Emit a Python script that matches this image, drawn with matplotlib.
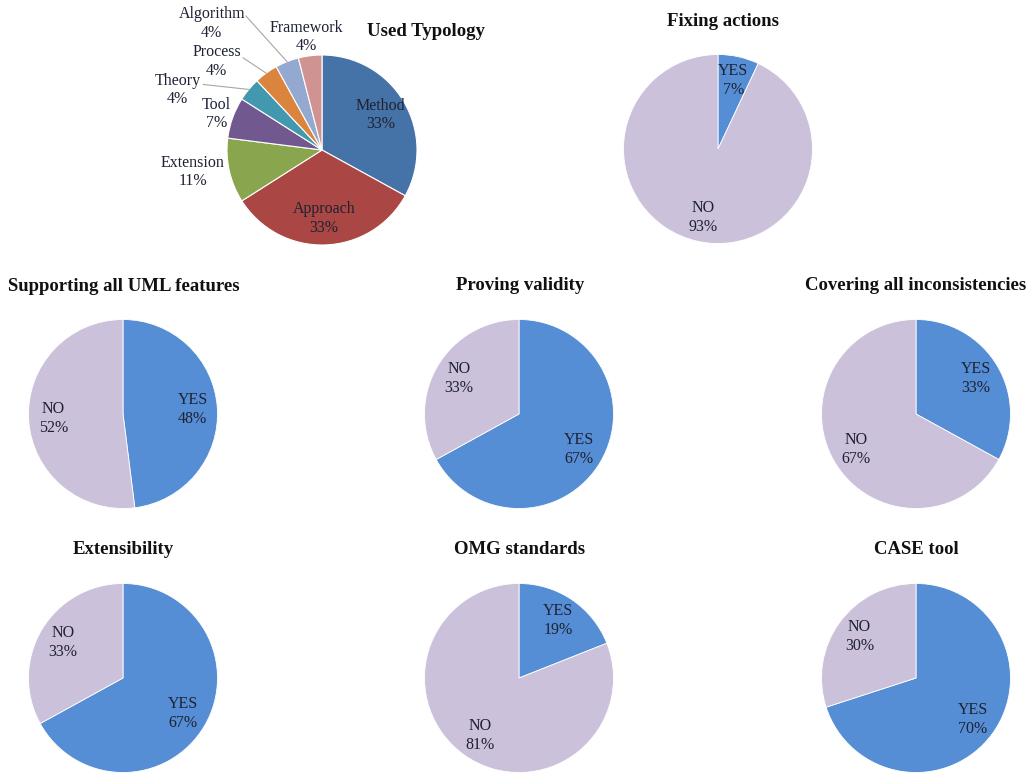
import numpy as np
import matplotlib.pyplot as plt

# ---- data ----
typology_labels = ['Method', 'Approach', 'Extension', 'Tool', 'Theory', 'Process', 'Algorithm', 'Framework']
typology_pct = [33, 33, 11, 7, 4, 4, 4, 4]
typology_colors = ['#4572a7', '#aa4643', '#89a54e', '#71588f', '#4198af', '#db843d', '#93a9cf', '#d19392']

chart_titles = ['Fixing actions', 'Supporting all UML features', 'Proving validity',
                'Covering all inconsistencies', 'Extensibility', 'OMG standards', 'CASE tool']
yes_pct = [7, 48, 67, 33, 67, 19, 70]
no_pct = [93, 52, 33, 67, 33, 81, 30]
answer_labels = ['YES', 'NO']
answer_colors = ['#558ed5', '#ccc1da']

W, H = 1033, 773
SERIF = ['Liberation Serif', 'DejaVu Serif']
TXT = '#1e2233'

fig = plt.figure(figsize=(W / 100, H / 100), dpi=100)


def pie_axes(cx, cy, r):
    ax = fig.add_axes([(cx - r) / W, 1 - (cy + r) / H, 2 * r / W, 2 * r / H])
    ax.axis('off')
    return ax


def fix_limits(ax):
    # pie() resets the limits, so set them afterwards
    ax.set_xlim(-1, 1)
    ax.set_ylim(-1, 1)
    ax.set_aspect('equal')


def title(x, y, s):
    fig.text(x / W, 1 - y / H, s, ha='center', va='center', fontsize=13.5,
             fontweight='bold', family=SERIF, color='#111111')


def mid_point(w, r):
    a = np.deg2rad((w.theta1 + w.theta2) / 2)
    return r * np.cos(a), r * np.sin(a)


# ---- Used Typology ----
ax = pie_axes(322, 150, 95)
wedges, _ = ax.pie(typology_pct, colors=typology_colors, startangle=90, counterclock=False,
                   radius=1, wedgeprops=dict(edgecolor='white', linewidth=0.8))
fix_limits(ax)
# label positions (pie units); None -> inside the slice
lab_pos = [None, None, (-1.36, -0.23), (-1.11, 0.38), (-1.52, 0.63), (-1.11, 0.93),
           (-1.16, 1.33), (-0.16, 1.19)]
leader_start = {4: (-1.25, 0.69), 5: (-0.83, 0.97), 6: (-0.80, 1.41)}
for i, w in enumerate(wedges):
    s = f'{typology_labels[i]}\n{typology_pct[i]}%'
    if lab_pos[i] is None:
        x, y = mid_point(w, 0.72)
    else:
        x, y = lab_pos[i]
    ax.text(x, y, s, ha='center', va='center', fontsize=11.5, family=SERIF,
            color=TXT, linespacing=1.2)
    if i in leader_start:
        ex, ey = mid_point(w, 1.0)
        sx, sy = leader_start[i]
        ax.plot([sx, ex], [sy, ey], color='#a6a6a6', lw=0.8, clip_on=False)
title(426, 32, 'Used Typology')

# ---- YES / NO pies ----
centers = [(718, 149), (123, 414), (519, 414), (916, 414), (123, 678), (519, 678), (916, 678)]
title_pos = [(723, 21), (124, 286), (520, 285), (916, 285), (123, 550), (520, 550), (916, 550)]
for k in range(len(chart_titles)):
    cx, cy = centers[k]
    ax = pie_axes(cx, cy, 94.5)
    vals = [yes_pct[k], no_pct[k]]
    wedges, _ = ax.pie(vals, colors=answer_colors, startangle=90, counterclock=False,
                       radius=1, wedgeprops=dict(edgecolor='white', linewidth=0.6))
    fix_limits(ax)
    for i, w in enumerate(wedges):
        x, y = mid_point(w, 0.74)
        ax.text(x, y, f'{answer_labels[i]}\n{vals[i]}%', ha='center', va='center',
                fontsize=11.5, family=SERIF, color=TXT, linespacing=1.25)
    title(title_pos[k][0], title_pos[k][1], chart_titles[k])

fig.savefig('out.png', dpi=100)
